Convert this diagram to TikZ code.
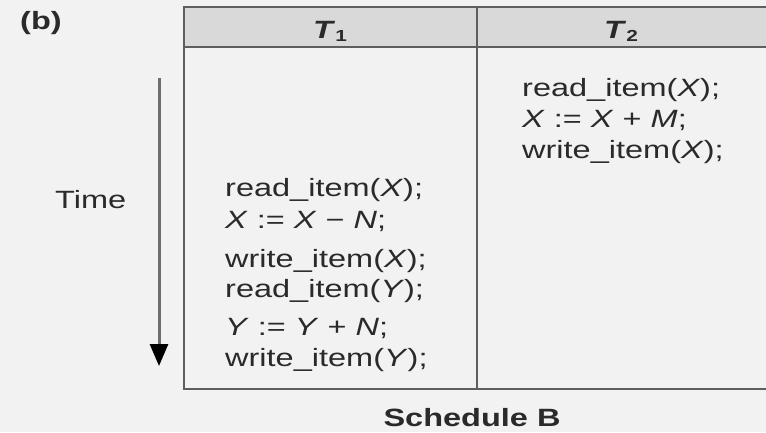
\documentclass[tikz,border=0pt]{standalone}
\usepackage{fontspec}
\setmainfont{Liberation Sans}[FakeStretch=1.3]
\usetikzlibrary{arrows.meta}
\definecolor{pagebg}{HTML}{F2F2F2}
\definecolor{headbg}{HTML}{D9D9D9}
\definecolor{rule}{HTML}{5E5E5E}
\definecolor{ink}{HTML}{2A2A2A}
\begin{document}
\begin{tikzpicture}[x=1pt,y=-1pt,
  grid/.style={draw=rule,line width=2.6pt},
  code/.style={anchor=base west,inner sep=0pt,text=ink,font=\fontsize{25}{30}\selectfont},
  head/.style={anchor=base,inner sep=0pt,text=ink,font=\fontsize{25}{30}\selectfont\bfseries},
  label/.style={anchor=base west,inner sep=0pt,text=ink,font=\fontsize{25}{30}\selectfont}]
  % canvas
  \fill[pagebg] (0,0) rectangle (766,432);
  \useasboundingbox (0,0) rectangle (766,432);
  % header strip
  \fill[headbg] (184,7) rectangle (766,47);
  % table rules
  \draw[grid] (766,7) -- (184,7) -- (184,389) -- (766,389);
  \draw[grid] (184,47) -- (766,47);
  \draw[grid] (477,7) -- (477,389);
  % column headings
  \node[head] (t1) at (330,38) {\textit{T}\raisebox{-3pt}{\fontsize{16}{18}\selectfont 1}};
  \node[head] (t2) at (621,38) {\textit{T}\raisebox{-3pt}{\fontsize{16}{18}\selectfont 2}};
  % part label and caption
  \node[label,font=\fontsize{25}{30}\selectfont\bfseries] (part) at (20,29) {(b)};
  \node[head] (cap) at (472,426) {Schedule B};
  % time axis
  \node[label] (time) at (55,208) {Time};
  \coordinate (ttop) at (159,78);
  \coordinate (tbot) at (159,366);
  \draw[draw=rule!90,line width=3pt,-{Triangle[width=18pt,length=22pt,color=black]}] (ttop) -- (tbot);
  % transaction T2
  \node[code] (b1) at (522,96)  {read\_item(\textit{X});};
  \node[code] (b2) at (522,127) {\textit{X} := \textit{X} + \textit{M};};
  \node[code] (b3) at (522,158) {write\_item(\textit{X});};
  % transaction T1
  \node[code] (a1) at (225,196) {read\_item(\textit{X});};
  \node[code] (a2) at (225,228) {\textit{X} := \textit{X} − \textit{N};};
  \node[code] (a3) at (225,267) {write\_item(\textit{X});};
  \node[code] (a4) at (225,297) {read\_item(\textit{Y});};
  \node[code] (a5) at (225,335) {\textit{Y} := \textit{Y} + \textit{N};};
  \node[code] (a6) at (225,366) {write\_item(\textit{Y});};
\end{tikzpicture}
\end{document}
